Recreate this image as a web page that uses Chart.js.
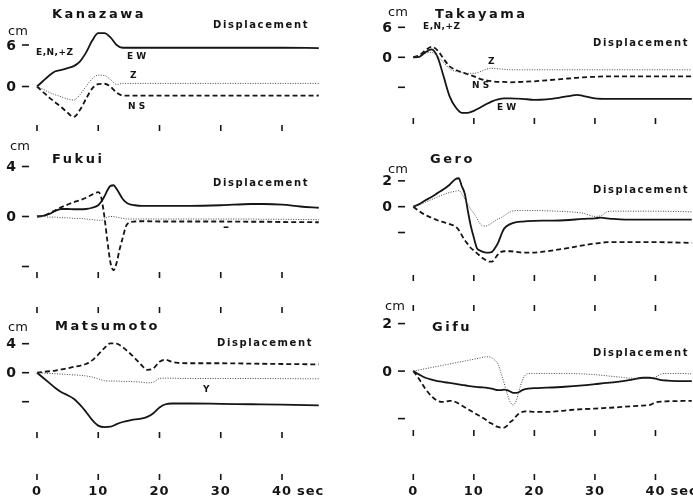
<!DOCTYPE html>
<html>
<head>
<meta charset="utf-8">
<script src="https://cdn.jsdelivr.net/npm/chart.js@4.4.0/dist/chart.umd.min.js"></script>
<style>
  html, body { margin: 0; padding: 0; background: #fff; }
  #wrap { position: relative; width: 693px; height: 502px; overflow: hidden; }
  #wrap canvas { position: absolute; left: 0; top: 0; }
</style>
</head>
<body>
<div id="wrap">
  <canvas id="kanazawa" width="693" height="502"></canvas>
  <canvas id="takayama" width="693" height="502"></canvas>
  <canvas id="fukui" width="693" height="502"></canvas>
  <canvas id="gero" width="693" height="502"></canvas>
  <canvas id="matsumoto" width="693" height="502"></canvas>
  <canvas id="gifu" width="693" height="502"></canvas>
</div>
<script>
// time marks along every panel (seconds)
const secTicks = [0, 10, 20, 30, 40];
const secLabels = ['0', '10', '20', '30', '40'];

// Kanazawa (cm)
const kanazawaTime = [0, 1, 2, 3, 4, 5, 6, 7, 8, 9, 10, 11, 12, 13, 14, 15, 16, 18, 20, 25, 30, 35, 40, 46];
const kanazawaEW = [0, 0.8, 1.6, 2.2, 2.4, 2.65, 2.95, 3.6, 4.9, 6.6, 7.7, 7.7, 7.1, 6.0, 5.6, 5.6, 5.6, 5.6, 5.6, 5.6, 5.6, 5.6, 5.6, 5.55];
const kanazawaNS = [0, -0.8, -1.6, -2.3, -3.0, -3.8, -4.4, -3.4, -1.8, -0.3, 0.35, 0.4, 0.0, -0.9, -1.3, -1.33, -1.33, -1.33, -1.33, -1.33, -1.33, -1.33, -1.33, -1.3];
const kanazawaZ = [0, -0.4, -0.85, -1.2, -1.5, -1.8, -1.95, -1.2, 0.0, 1.1, 1.65, 1.6, 1.0, 0.3, 0.45, 0.45, 0.45, 0.45, 0.45, 0.45, 0.45, 0.45, 0.45, 0.45];

// Takayama
const takayamaTime = [0, 1, 2, 3, 4, 5, 6, 7, 8, 9, 10, 11, 12, 13, 14, 15, 16, 18, 20, 22, 24, 26, 27, 28, 30, 32, 35, 40, 46];
const takayamaEW = [0, 0.1, 1.0, 1.6, 0.1, -3.8, -7.8, -10, -11.1, -11.1, -10.7, -10.1, -9.4, -8.8, -8.4, -8.2, -8.2, -8.3, -8.5, -8.4, -8.1, -7.7, -7.5, -7.7, -8.2, -8.3, -8.3, -8.3, -8.3];
const takayamaNS = [0, 0.4, 1.4, 2.1, 1.4, -0.3, -1.8, -2.5, -3.0, -3.4, -3.8, -4.3, -4.6, -4.8, -4.9, -4.9, -5.0, -4.9, -4.8, -4.6, -4.4, -4.2, -4.1, -4.0, -3.9, -3.8, -3.8, -3.8, -3.8];
const takayamaZ = [0, 0.2, 0.8, 1.0, 0.2, -1.0, -2.3, -2.8, -3.0, -3.2, -3.2, -2.9, -2.4, -2.2, -2.3, -2.4, -2.5, -2.5, -2.5, -2.5, -2.5, -2.5, -2.5, -2.5, -2.5, -2.5, -2.5, -2.5, -2.5];

// Fukui
const fukuiTime = [0, 1, 2, 3, 4, 5, 6, 7, 8, 9, 10, 10.5, 11, 11.5, 12, 12.5, 13, 13.5, 14, 14.5, 15, 16, 17, 18, 20, 25, 30, 35, 37, 40, 43, 46];
const fukuiEW = [0, 0.05, 0.2, 0.45, 0.6, 0.6, 0.58, 0.58, 0.6, 0.7, 0.9, 1.2, 1.6, 2.1, 2.45, 2.5, 2.2, 1.8, 1.4, 1.15, 1.0, 0.9, 0.85, 0.85, 0.85, 0.85, 0.9, 1.0, 1.0, 0.95, 0.8, 0.7];
const fukuiNS = [0, 0.05, 0.25, 0.5, 0.75, 0.95, 1.15, 1.3, 1.5, 1.75, 1.95, 1.5, 0.0, -2.0, -3.7, -4.3, -3.7, -2.6, -1.7, -0.8, -0.5, -0.4, -0.38, -0.38, -0.4, -0.4, -0.4, -0.42, -0.42, -0.44, -0.45, -0.46];
const fukuiZ = [0, 0, -0.05, -0.05, -0.1, -0.1, -0.15, -0.15, -0.2, -0.25, -0.3, -0.3, -0.2, -0.05, 0.0, 0.0, -0.05, -0.1, -0.15, -0.2, -0.2, -0.2, -0.2, -0.2, -0.2, -0.2, -0.2, -0.2, -0.22, -0.22, -0.24, -0.25];

// Gero
const geroTime = [0, 1, 2, 3, 4, 5, 6, 7, 7.5, 8, 8.5, 9, 9.5, 10, 10.5, 11, 11.5, 12, 12.5, 13, 13.5, 14, 14.5, 15, 16, 17, 18, 20, 22, 25, 28, 30, 31, 32, 33, 35, 40, 46];
const geroEW = [0, 0.2, 0.5, 0.75, 1.05, 1.35, 1.7, 2.15, 2.2, 1.6, 1.0, -0.3, -1.5, -2.4, -3.2, -3.4, -3.5, -3.55, -3.55, -3.5, -3.2, -2.8, -2.2, -1.7, -1.35, -1.2, -1.15, -1.1, -1.08, -1.05, -0.95, -0.9, -0.85, -0.9, -0.95, -1.0, -1.0, -1.0];
const geroNS = [0, -0.35, -0.65, -0.85, -1.05, -1.2, -1.35, -1.55, -1.8, -2.2, -2.6, -2.9, -3.2, -3.4, -3.6, -3.8, -4.0, -4.15, -4.25, -4.25, -4.0, -3.7, -3.5, -3.45, -3.45, -3.5, -3.55, -3.55, -3.45, -3.25, -3.0, -2.85, -2.8, -2.75, -2.75, -2.75, -2.75, -2.8];
const geroZ = [0, 0.15, 0.35, 0.55, 0.75, 0.95, 1.1, 1.2, 1.25, 1.0, 0.6, 0.2, -0.2, -0.5, -0.9, -1.3, -1.5, -1.5, -1.4, -1.25, -1.1, -0.95, -0.85, -0.7, -0.4, -0.3, -0.3, -0.3, -0.32, -0.38, -0.5, -0.75, -0.7, -0.4, -0.35, -0.35, -0.35, -0.4];

// Matsumoto
const matsumotoTime = [0, 1, 2, 3, 4, 5, 6, 7, 8, 9, 10, 11, 12, 13, 14, 15, 16, 17, 18, 19, 20, 21, 22, 23, 25, 30, 35, 40, 46];
const matsumotoEW = [0, -0.7, -1.4, -2.1, -2.7, -3.1, -3.6, -4.4, -5.4, -6.5, -7.3, -7.5, -7.45, -7.1, -6.8, -6.6, -6.45, -6.35, -6.1, -5.6, -4.8, -4.35, -4.25, -4.25, -4.25, -4.3, -4.35, -4.4, -4.5];
const matsumotoNS = [0, 0.1, 0.2, 0.3, 0.45, 0.6, 0.8, 0.95, 1.2, 1.7, 2.5, 3.4, 4.05, 4.0, 3.5, 2.8, 2.0, 1.1, 0.4, 0.6, 1.5, 1.8, 1.5, 1.35, 1.3, 1.3, 1.25, 1.2, 1.15];
const matsumotoZ = [0, -0.05, -0.1, -0.15, -0.2, -0.25, -0.3, -0.35, -0.45, -0.6, -0.85, -1.1, -1.15, -1.15, -1.2, -1.2, -1.25, -1.3, -1.4, -1.3, -0.8, -0.75, -0.75, -0.78, -0.8, -0.8, -0.8, -0.82, -0.85];

// Gifu
const gifuTime = [0, 1, 2, 3, 4, 5, 6, 7, 8, 9, 10, 11, 12, 12.5, 13, 13.5, 14, 14.5, 15, 15.5, 16, 16.5, 17, 17.5, 18, 18.5, 19, 20, 22, 25, 28, 30, 32, 34, 36, 38, 39, 40, 41, 42, 44, 46];
const gifuEW = [0, -0.15, -0.28, -0.36, -0.42, -0.46, -0.5, -0.54, -0.58, -0.62, -0.65, -0.68, -0.7, -0.72, -0.74, -0.78, -0.8, -0.8, -0.78, -0.8, -0.86, -0.92, -0.92, -0.88, -0.8, -0.76, -0.74, -0.72, -0.7, -0.66, -0.6, -0.55, -0.5, -0.44, -0.37, -0.28, -0.28, -0.32, -0.38, -0.4, -0.42, -0.42];
const gifuNS = [0, -0.35, -0.75, -1.05, -1.25, -1.3, -1.25, -1.3, -1.45, -1.6, -1.75, -1.9, -2.05, -2.15, -2.22, -2.3, -2.35, -2.38, -2.38, -2.3, -2.15, -2.05, -1.9, -1.78, -1.72, -1.7, -1.7, -1.72, -1.72, -1.66, -1.6, -1.58, -1.55, -1.52, -1.48, -1.45, -1.43, -1.32, -1.28, -1.27, -1.26, -1.25];
const gifuZ = [0, 0.05, 0.1, 0.15, 0.2, 0.25, 0.3, 0.35, 0.4, 0.45, 0.5, 0.55, 0.6, 0.6, 0.55, 0.45, 0.3, -0.1, -0.5, -0.95, -1.3, -1.43, -1.25, -0.8, -0.4, -0.17, -0.1, -0.1, -0.1, -0.1, -0.12, -0.15, -0.2, -0.25, -0.3, -0.3, -0.3, -0.25, -0.12, -0.1, -0.1, -0.12];

const INK = '#151515';
const TITLE = 'bold 13px "DejaVu Sans"';
const SMALL = 'bold 10px "DejaVu Sans"';
const TAG = 'bold 9px "DejaVu Sans"';
const CM = '13px "DejaVu Sans"';
const NUM = 'bold 14px "DejaVu Sans"';

// axis marks, tick rows and lettering, all placed through the chart scales
const panelDeco = {
  id: 'panelDeco',
  afterDatasetsDraw(chart, args, o) {
    const { ctx, chartArea, scales: { x, y } } = chart;
    ctx.save();
    ctx.fillStyle = INK;
    ctx.strokeStyle = INK;
    ctx.lineWidth = 1.6;
    ctx.textBaseline = 'middle';

    o.yTicks.forEach((v, i) => {
      const py = y.getPixelForValue(v);
      ctx.beginPath();
      ctx.moveTo(chartArea.left - 11, py);
      ctx.lineTo(chartArea.left - 4, py);
      ctx.stroke();
      if (o.yLabels[i]) {
        ctx.font = NUM;
        ctx.textAlign = 'right';
        ctx.fillText(o.yLabels[i], chartArea.left - 17, py + 1);
      }
    });

    o.tickRows.forEach(ry => {
      secTicks.forEach(t => {
        const px = x.getPixelForValue(t);
        ctx.beginPath();
        ctx.moveTo(px, ry);
        ctx.lineTo(px, ry + 6);
        ctx.stroke();
      });
    });

    if (o.secLabelY) {
      ctx.font = 'bold 13px "DejaVu Sans"';
      ctx.letterSpacing = '1px';
      secTicks.forEach((t, i) => {
        const px = x.getPixelForValue(t);
        ctx.textAlign = 'center';
        ctx.fillText(secLabels[i], px, o.secLabelY);
      });
      ctx.textAlign = 'left';
      ctx.fillText('sec', x.getPixelForValue(secTicks[secTicks.length - 1]) + 15, o.secLabelY);
    }

    ctx.textAlign = 'left';
    o.texts.forEach(([s, px, py, font, sp]) => {
      ctx.font = font;
      ctx.letterSpacing = sp || '0px';
      ctx.fillText(s, px, py);
    });
    ctx.restore();
  }
};

function series(time, vals, kind) {
  const style = {
    EW: { borderWidth: 1.8, borderDash: [], borderColor: INK },
    NS: { borderWidth: 1.8, borderDash: [5, 3], borderColor: INK },
    Z: { borderWidth: 1, borderDash: [1, 1.5], borderColor: '#444' }
  }[kind];
  return Object.assign({
    label: kind,
    data: time.map((t, i) => ({ x: t, y: vals[i] })),
    pointRadius: 0,
    cubicInterpolationMode: 'monotone',
    fill: false,
    clip: false
  }, style);
}

function makePanel(id, cfg) {
  return new Chart(document.getElementById(id), {
    type: 'line',
    data: { datasets: cfg.datasets },
    options: {
      responsive: false,
      devicePixelRatio: 1,
      animation: false,
      events: [],
      layout: { padding: cfg.pad },
      plugins: {
        legend: { display: false },
        tooltip: { enabled: false },
        panelDeco: cfg.deco
      },
      scales: {
        x: { type: 'linear', display: false, min: cfg.xMin, max: 46.2 },
        y: { type: 'linear', display: false, min: cfg.yMin, max: cfg.yMax }
      }
    },
    plugins: [panelDeco]
  });
}

const LEFT = { left: 33, right: 373 };
const RIGHT = { left: 409, right: 0 };

makePanel('kanazawa', {
  pad: { ...LEFT, top: 20, bottom: 502 - 125 },
  xMin: -0.65, yMin: -5.56, yMax: 9.61,
  datasets: [
    series(kanazawaTime, kanazawaZ, 'Z'),
    series(kanazawaTime, kanazawaNS, 'NS'),
    series(kanazawaTime, kanazawaEW, 'EW')
  ],
  deco: {
    yTicks: [6, 0], yLabels: ['6', '0'], tickRows: [125],
    texts: [
      ['Kanazawa', 52, 15, TITLE, '2.5px'], ['cm', 8, 32, CM], ['Displacement', 213, 25, SMALL, '1.6px'],
      ['E,N,+Z', 36, 53, TAG, '0.5px'], ['E W', 127, 57, TAG], ['Z', 130, 76, TAG], ['N S', 128, 107, TAG]
    ]
  }
});

makePanel('takayama', {
  pad: { ...RIGHT, top: 20, bottom: 502 - 118 },
  xMin: -0.71, yMin: -12.14, yMax: 7.46,
  datasets: [
    series(takayamaTime, takayamaZ, 'Z'),
    series(takayamaTime, takayamaNS, 'NS'),
    series(takayamaTime, takayamaEW, 'EW')
  ],
  deco: {
    yTicks: [6, 0, -6], yLabels: ['6', '0', ''], tickRows: [118],
    texts: [
      ['cm', 388, 13, CM], ['Takayama', 435, 15, TITLE, '2.5px'], ['E,N,+Z', 423, 27, TAG, '0.5px'],
      ['Displacement', 593, 43, SMALL, '1.6px'], ['Z', 488, 62, TAG], ['N S', 472, 86, TAG], ['E W', 497, 108, TAG]
    ]
  }
});

makePanel('fukui', {
  pad: { ...LEFT, top: 175, bottom: 502 - 272 },
  xMin: -0.65, yMin: -4.44, yMax: 3.32,
  datasets: [
    series(fukuiTime, fukuiZ, 'Z'),
    series(fukuiTime, fukuiNS, 'NS'),
    series(fukuiTime, fukuiEW, 'EW')
  ],
  deco: {
    yTicks: [4, 0, -4], yLabels: ['4', '0', ''], tickRows: [272, 307],
    texts: [
      ['cm', 10, 147, CM], ['Fukui', 52, 160, TITLE, '2.5px'], ['Displacement', 213, 183, SMALL, '1.6px'],
      ['–', 223, 228, 'bold 12px "DejaVu Sans"']
    ]
  }
});

makePanel('gero', {
  pad: { ...RIGHT, top: 170, bottom: 502 - 275 },
  xMin: -0.71, yMin: -5.29, yMax: 2.84,
  datasets: [
    series(geroTime, geroZ, 'Z'),
    series(geroTime, geroNS, 'NS'),
    series(geroTime, geroEW, 'EW')
  ],
  deco: {
    yTicks: [2, 0, -2], yLabels: ['2', '0', ''], tickRows: [275, 305],
    texts: [
      ['Gero', 430, 160, TITLE, '2.5px'], ['cm', 388, 170, CM], ['Displacement', 593, 190, SMALL, '1.6px']
    ]
  }
});

makePanel('matsumoto', {
  pad: { ...LEFT, top: 340, bottom: 502 - 432 },
  xMin: -0.65, yMin: -8.18, yMax: 4.51,
  datasets: [
    series(matsumotoTime, matsumotoZ, 'Z'),
    series(matsumotoTime, matsumotoNS, 'NS'),
    series(matsumotoTime, matsumotoEW, 'EW')
  ],
  deco: {
    yTicks: [4, 0, -4], yLabels: ['4', '0', ''], tickRows: [432, 474], secLabelY: 492,
    texts: [
      ['cm', 8, 328, CM], ['Matsumoto', 55, 327, TITLE, '2.5px'], ['Displacement', 217, 343, SMALL, '1.6px'],
      ['Y', 203, 390, TAG]
    ]
  }
});

makePanel('gifu', {
  pad: { ...RIGHT, top: 330, bottom: 502 - 430 },
  xMin: -0.71, yMin: -2.48, yMax: 1.73,
  datasets: [
    series(gifuTime, gifuZ, 'Z'),
    series(gifuTime, gifuNS, 'NS'),
    series(gifuTime, gifuEW, 'EW')
  ],
  deco: {
    yTicks: [2, 0, -2], yLabels: ['2', '0', ''], tickRows: [430, 474], secLabelY: 492,
    texts: [
      ['cm', 385, 307, CM], ['Gifu', 432, 328, TITLE, '2.5px'], ['Displacement', 593, 353, SMALL, '1.6px']
    ]
  }
});
</script>
</body>
</html>
